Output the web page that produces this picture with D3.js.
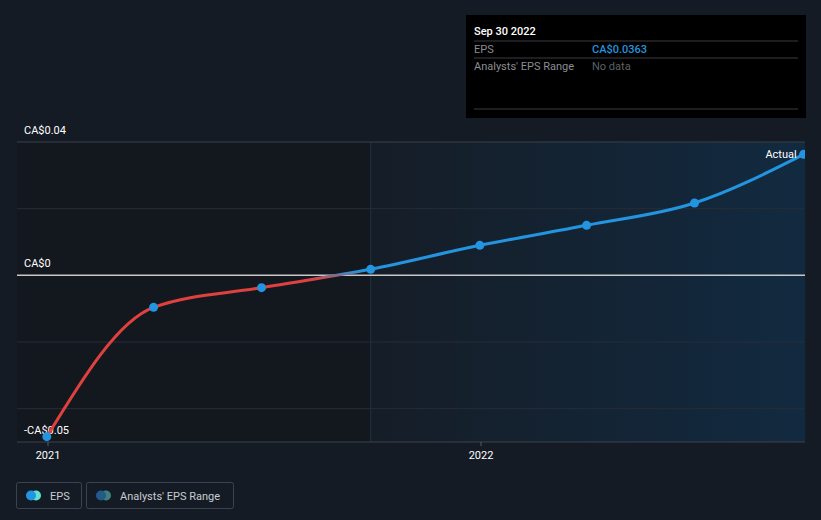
<!DOCTYPE html>
<html>
<head>
<meta charset="utf-8">
<script src="https://cdn.jsdelivr.net/npm/d3@7"></script>
<style>
  html, body { margin: 0; padding: 0; background: #151b24; }
  svg { display: block; font-family: Roboto, "Noto Sans", sans-serif; }
</style>
</head>
<body>
<script>
// data
const dates = ['2020-12-31', '2021-03-31', '2021-06-30', '2021-09-30', '2021-12-31', '2022-03-31', '2022-06-30', '2022-09-30'];
const eps = [-0.0484, -0.0096, -0.0037, 0.0018, 0.0090, 0.0150, 0.0217, 0.0363];
const yTicks = [0.04, 0, -0.05];
const yGrid = [0.04, 0.02, 0, -0.02, -0.04];
const xTicks = ['2021-01-01', '2022-01-01'];
const pastEnd = '2021-09-30';

const width = 821, height = 520;
const parse = d3.timeParse('%Y-%m-%d');
const data = dates.map((d, i) => ({ date: parse(d), value: eps[i] }));

const svg = d3.select('body').append('svg')
  .attr('width', width)
  .attr('height', height);

const x = d3.scaleTime()
  .domain([parse('2021-01-01'), parse('2022-01-01')])
  .range([48, 481]);
const y = d3.scaleLinear()
  .domain([-0.05, 0.04])
  .range([442, 142]);

const left = 17, right = 805;
const defs = svg.append('defs');

// shaded region gradient
const bg = defs.append('linearGradient').attr('id', 'shade')
  .attr('x1', '0%').attr('x2', '100%');
bg.append('stop').attr('offset', '0%').attr('stop-color', '#151d27');
bg.append('stop').attr('offset', '100%').attr('stop-color', '#122a40');

// line colour: red below zero, blue above
const lg = defs.append('linearGradient').attr('id', 'lineCol')
  .attr('gradientUnits', 'userSpaceOnUse')
  .attr('x1', 0).attr('x2', 0)
  .attr('y1', y(0) + 4).attr('y2', y(0) - 4);
lg.append('stop').attr('offset', '0%').attr('stop-color', '#e0413f');
lg.append('stop').attr('offset', '100%').attr('stop-color', '#2394df');

// past region (darker)
svg.append('rect')
  .attr('x', left).attr('y', y(0.04))
  .attr('width', x(parse(pastEnd)) - left)
  .attr('height', y(-0.05) - y(0.04))
  .attr('fill', '#13171e');

svg.append('rect')
  .attr('x', x(parse(pastEnd))).attr('y', y(0.04))
  .attr('width', right - x(parse(pastEnd)))
  .attr('height', y(-0.05) - y(0.04))
  .attr('fill', 'url(#shade)');

svg.append('line')
  .attr('x1', x(parse(pastEnd))).attr('x2', x(parse(pastEnd)))
  .attr('y1', y(0.04)).attr('y2', y(-0.05))
  .attr('stroke', '#1d3142').attr('stroke-width', 1);

// grid lines
svg.append('g')
  .selectAll('line')
  .data(yGrid)
  .enter()
  .append('line')
  .attr('x1', left).attr('x2', right)
  .attr('y1', (d) => y(d)).attr('y2', (d) => y(d))
  .attr('stroke', (d) => d === 0 ? '#c8c8c8' : (d === 0.04 ? '#3a414a' : '#262d36'))
  .attr('stroke-width', (d) => d === 0 ? 1.5 : 1);

// bottom axis line
svg.append('line')
  .attr('x1', left).attr('x2', right)
  .attr('y1', y(-0.05)).attr('y2', y(-0.05))
  .attr('stroke', '#3c434c');

// y labels
svg.append('g')
  .selectAll('text')
  .data(yTicks)
  .enter()
  .append('text')
  .attr('x', 24)
  .attr('y', (d) => y(d) - 8)
  .attr('fill', '#ffffff')
  .attr('font-size', 11)
  .text((d) => d === 0 ? 'CA$0' : (d < 0 ? '-CA$' + Math.abs(d) : 'CA$' + d));

// x ticks
const xg = svg.append('g')
  .selectAll('g')
  .data(xTicks)
  .enter()
  .append('g');
xg.append('line')
  .attr('x1', (d) => x(parse(d))).attr('x2', (d) => x(parse(d)))
  .attr('y1', y(-0.05)).attr('y2', y(-0.05) + 4)
  .attr('stroke', '#555c64');
xg.append('text')
  .attr('x', (d) => x(parse(d)))
  .attr('y', 459)
  .attr('text-anchor', 'middle')
  .attr('fill', '#ffffff')
  .attr('font-size', 11)
  .text((d) => d.slice(0, 4));

// line
const line = d3.line()
  .x((d) => x(d.date))
  .y((d) => y(d.value))
  .curve(d3.curveMonotoneX);

svg.append('path')
  .datum(data)
  .attr('d', line)
  .attr('fill', 'none')
  .attr('stroke', 'url(#lineCol)')
  .attr('stroke-width', 3);

svg.append('g')
  .selectAll('circle')
  .data(data)
  .enter()
  .append('circle')
  .attr('cx', (d) => x(d.date))
  .attr('cy', (d) => y(d.value))
  .attr('r', 4.5)
  .attr('fill', '#2394df');

const last = data[data.length - 1];
svg.append('text')
  .attr('x', x(last.date) - 7)
  .attr('y', y(last.value) + 4)
  .attr('text-anchor', 'end')
  .attr('fill', '#ffffff')
  .attr('font-size', 11)
  .text('Actual');

// mask outside the plot on the right
svg.append('rect')
  .attr('x', right).attr('y', 0)
  .attr('width', width - right).attr('height', height)
  .attr('fill', '#151b24');

// tooltip
const tip = svg.append('g').attr('transform', 'translate(466,15)');
tip.append('rect')
  .attr('width', 340).attr('height', 103)
  .attr('fill', '#000000');
tip.append('text')
  .attr('x', 8).attr('y', 20)
  .attr('fill', '#ffffff')
  .attr('font-size', 11)
  .attr('font-weight', 500)
  .text('Sep 30 2022');
[26, 43, 94].forEach((ly) => {
  tip.append('line')
    .attr('x1', 8).attr('x2', 332)
    .attr('y1', ly).attr('y2', ly)
    .attr('stroke', '#3a3d42');
});
tip.append('text')
  .attr('x', 8).attr('y', 38)
  .attr('fill', '#8a8d92').attr('font-size', 11)
  .text('EPS');
tip.append('text')
  .attr('x', 126).attr('y', 38)
  .attr('fill', '#2394df').attr('font-size', 11).attr('font-weight', 500)
  .text('CA$' + last.value.toFixed(4));
tip.append('text')
  .attr('x', 8).attr('y', 55)
  .attr('fill', '#8a8d92').attr('font-size', 11)
  .text("Analysts' EPS Range");
tip.append('text')
  .attr('x', 126).attr('y', 55)
  .attr('fill', '#5d6066').attr('font-size', 11)
  .text('No data');

// legend
const legend = [
  { label: 'EPS', x: 16, w: 65, c1: '#2394df', c2: '#5ee0d2' },
  { label: "Analysts' EPS Range", x: 86, w: 147, c1: '#235a87', c2: '#3e7f7f' }
];
const lgG = svg.append('g')
  .selectAll('g')
  .data(legend)
  .enter()
  .append('g')
  .attr('transform', (d) => `translate(${d.x},482)`);
lgG.append('rect')
  .attr('x', 0.5).attr('y', 0.5)
  .attr('width', (d) => d.w).attr('height', 26)
  .attr('rx', 2)
  .attr('fill', 'none')
  .attr('stroke', '#3c434c');
lgG.append('circle')
  .attr('cx', 20).attr('cy', 13.5).attr('r', 5)
  .attr('fill', (d) => d.c2);
lgG.append('circle')
  .attr('cx', 15).attr('cy', 13.5).attr('r', 5)
  .attr('fill', (d) => d.c1);
lgG.append('text')
  .attr('x', 34).attr('y', 17.5)
  .attr('fill', '#c8ccd1')
  .attr('font-size', 11)
  .text((d) => d.label);
</script>
</body>
</html>
